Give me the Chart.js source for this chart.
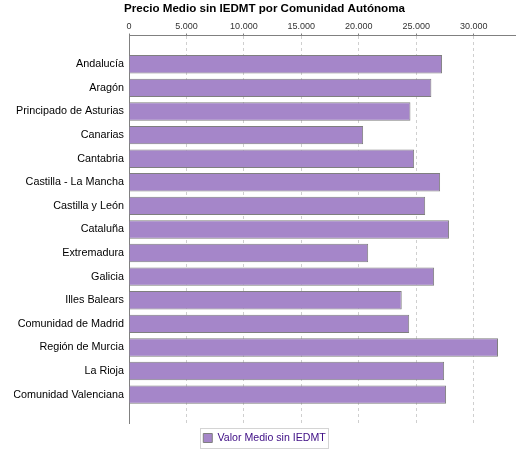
<!DOCTYPE html>
<html>
<head>
<meta charset="utf-8">
<script src="https://cdn.jsdelivr.net/npm/chart.js@4.4.1/dist/chart.umd.min.js"></script>
<style>
  html, body { margin: 0; padding: 0; background: #fff; }
  #wrap { width: 525px; height: 450px; }
</style>
</head>
<body>
<div id="wrap"><canvas id="precioChart" width="525" height="450"></canvas></div>
<script>
// Datos
const comunidades = [
    'Andalucía', 'Aragón', 'Principado de Asturias', 'Canarias', 'Cantabria',
    'Castilla - La Mancha', 'Castilla y León', 'Cataluña', 'Extremadura', 'Galicia',
    'Illes Balears', 'Comunidad de Madrid', 'Región de Murcia', 'La Rioja', 'Comunidad Valenciana'
];
const valorMedio = [
    27250, 26320, 24500, 20380, 24820,
    27080, 25780, 27860, 20820, 26560,
    23740, 24390, 32120, 27430, 27600
];
const ticksX = [0, 5000, 10000, 15000, 20000, 25000, 30000];
const ejeMax = 33600;

function formatoMiles(v) {
    return String(v).replace(/\B(?=(\d{3})+(?!\d))/g, '.');
}

// caja alrededor de la leyenda
const legendBorder = {
    id: 'legendBorder',
    afterDraw(chart) {
        const boxes = chart.legend && chart.legend.legendHitBoxes;
        if (!boxes || !boxes.length) return;
        const b = boxes[0];
        const ctx = chart.ctx;
        ctx.save();
        ctx.strokeStyle = '#d4d4d4';
        ctx.lineWidth = 1;
        ctx.strokeRect(Math.round(b.left) - 2.5, Math.round(b.top) - 4.5, Math.round(b.width) + 6, Math.round(b.height) + 9);
        ctx.restore();
    }
};

document.addEventListener('DOMContentLoaded', function() {
    const ctx = document.getElementById('precioChart').getContext('2d');
    new Chart(ctx, {
        type: 'bar',
        data: {
            datasets: [{
                label: 'Valor Medio sin IEDMT',
                data: valorMedio.map((v, i) => ({ x: v, y: i })),
                backgroundColor: '#a586c9',
                borderColor: '#7f7f7f',
                borderWidth: 1,
                categoryPercentage: 1,
                barPercentage: 0.78
            }]
        },
        plugins: [legendBorder],
        options: {
            indexAxis: 'y',
            responsive: false,
            animation: false,
            layout: { padding: { left: 14, right: 10, top: 0, bottom: -3.3 } },
            scales: {
                x: {
                    type: 'linear',
                    position: 'top',
                    min: 0,
                    max: ejeMax,
                    afterBuildTicks: scale => { scale.ticks = ticksX.map(v => ({ value: v })); },
                    afterFit: scale => { scale.height = 16.6; },
                    ticks: {
                        callback: v => formatoMiles(v),
                        font: { family: 'Liberation Sans', size: 9 },
                        color: '#333333',
                        padding: 2,
                        maxRotation: 0
                    },
                    grid: {
                        color: '#cfcfcf',
                        lineWidth: 1,
                        tickLength: 2,
                        tickColor: '#808080'
                    },
                    border: { display: true, color: '#808080', dash: [3, 3] }
                },
                y: {
                    type: 'linear',
                    reverse: true,
                    offset: false,
                    min: -1.22,
                    max: 15.22,
                    afterBuildTicks: scale => { scale.ticks = comunidades.map((c, i) => ({ value: i })); },
                    afterFit: scale => { scale.width = 115; },
                    ticks: {
                        callback: v => comunidades[v],
                        autoSkip: false,
                        font: { family: 'Liberation Sans', size: 10.8 },
                        color: '#000000',
                        padding: 5
                    },
                    grid: { display: false, offset: false, drawTicks: false, tickLength: 0 },
                    border: { display: true, color: '#808080' }
                }
            },
            plugins: {
                title: {
                    display: true,
                    text: 'Precio Medio sin IEDMT por Comunidad Autónoma',
                    font: { family: 'Liberation Sans', size: 11.6, weight: 'bold' },
                    color: '#000000',
                    padding: { top: 2, bottom: 3 }
                },
                legend: {
                    display: true,
                    position: 'bottom',
                    labels: {
                        boxWidth: 9,
                        boxHeight: 9,
                        padding: 9.3,
                        color: '#3d0c84',
                        font: { family: 'Liberation Sans', size: 10.6 }
                    }
                },
                tooltip: { enabled: false }
            }
        }
    });
});
</script>
</body>
</html>
